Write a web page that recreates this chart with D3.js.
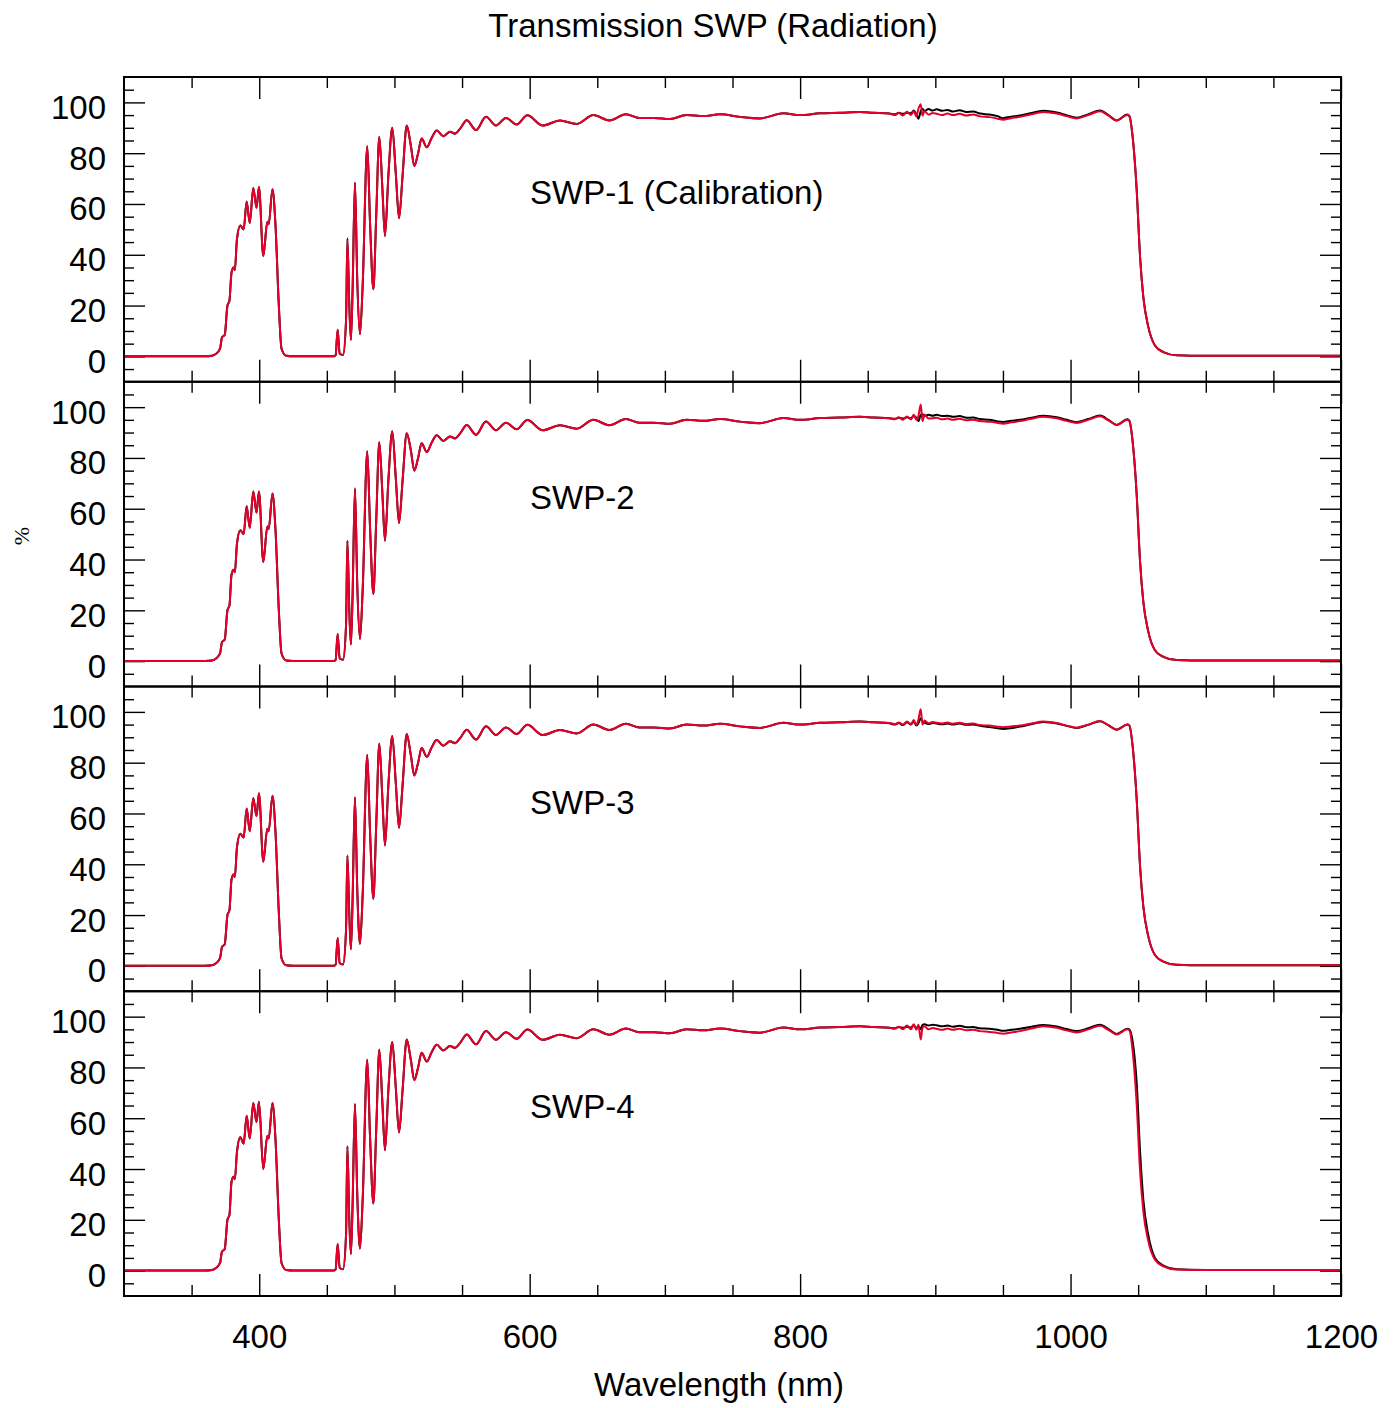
<!DOCTYPE html>
<html>
<head>
<meta charset="utf-8">
<script src="https://cdn.jsdelivr.net/npm/d3@7"></script>
<style>
  body { margin: 0; background: #fff; }
  svg { display: block; font-family: "Liberation Sans", Arial, Helvetica, sans-serif; }
</style>
</head>
<body>
<svg id="chart" width="1398" height="1408"></svg>
<script>

// wavelength grid (nm), shared by every series
const wavelength = [
  300, 360, 365, 368, 371, 372.5, 374.5, 376.5, 378, 379.5, 381, 382, 383.5, 386, 388.5, 390.7, 393, 395.6, 398, 399.8, 403, 406, 407, 409.8, 412, 414.5, 416.5, 420, 425,
  455, 456.5, 458, 459.5, 462, 464.2, 465.2, 466.5, 467.8, 469, 470.8, 472.5, 474.5, 476.5, 479.9, 482, 484.4, 486.5, 488.8, 491, 493, 495.5, 498.4, 501, 503.4, 506, 509.1, 512, 514.7, 517.5, 520.1, 523.9, 527.5, 531.3, 536.1, 541.1, 544.8, 549, 553.4, 560.3, 567.7, 575.1, 582.5, 590.4, 598.3, 609.6, 622.4, 634.8, 647.1, 658.9, 671.2, 681.1, 692, 703.8, 716.1, 728.4, 740.8, 755.6, 770.3, 787.6, 799.9, 814.7, 829.5, 844.3, 854.2,
  866, 870, 873, 876, 879, 882, 884, 886, 887.5, 889.2, 890.5, 892, 895, 898, 901, 905, 909, 913, 918, 923, 928, 933, 940, 946, 950, 956, 962.6, 970, 979.9, 989.8, 997, 1004.5, 1013, 1021.8, 1028, 1034.1, 1042,
  1043.5, 1046, 1048.9, 1051.4, 1053.8, 1057.5, 1062.4, 1068.6, 1078.5, 1100, 1150, 1200
];

// transmission (%) - black and red measurement of each filter
const swp1Black = [
  0, 0, 0.2, 1, 3, 7.5, 8.5, 20, 22, 33, 35, 34, 46, 51.5, 50, 61, 52.5, 66.3, 58.5, 66.7, 39.5, 53, 52, 65.8, 52, 20, 3, 0.2, 0,
  0, 0.5, 10.5, 1, 0.5, 14, 46.5, 22, 6.5, 25, 68.5, 30, 8.7, 28, 82.7, 52, 26.4, 55, 86.4, 67, 47.4, 71, 90, 72, 54.4, 71, 90.9, 83.4, 75, 80, 85.8, 82.3, 86, 88.9, 86.7, 88.4, 87.7, 90, 93, 89.1, 94.3, 90.9, 93.9, 91.3, 94.9, 90.9, 92.9, 91.5, 95, 92.9, 95.3, 93.9, 93.9, 93.5, 95, 94.6, 95.3, 94.3, 93.7, 95.7, 95, 95.7, 95.9, 96.2, 95.9,
  95.6, 95.3, 95.9, 95.5, 95.9, 95.7, 96.8, 95.2, 93.6, 96.5, 97.5, 96.6, 97.4, 96.8, 97.3, 96.7, 97, 96.4, 96.9, 96.2, 96.4, 95.6, 95.2, 94.6, 93.8, 94.4, 94.8, 95.7, 96.7, 96, 95, 94, 95.3, 96.8, 95, 92.9, 95.2,
  94.6, 86, 65.6, 39.2, 23.4, 11.6, 4.3, 1.7, 0.4, 0.2, 0.2, 0.2
];
const swp1Red = [
  0, 0, 0.2, 1, 3, 7.5, 8.5, 20, 22, 33, 35, 34, 46, 51.5, 50, 61, 52.5, 66.3, 58.5, 66.7, 39.5, 53, 52, 65.8, 52, 20, 3, 0.2, 0,
  0, 0.5, 10.5, 1, 0.5, 14, 45.8, 22, 6.5, 25, 68.5, 30, 8.7, 28, 82.7, 52, 26.4, 55, 86.4, 67, 47.4, 71, 90, 72, 54.4, 71, 90.9, 83.4, 75, 80, 85.8, 82.3, 86, 88.9, 86.7, 88.4, 87.7, 90, 93, 89.1, 94.3, 90.9, 93.9, 91.3, 94.9, 90.9, 92.9, 91.5, 95, 92.9, 95.3, 93.9, 93.9, 93.5, 95, 94.6, 95.3, 94.3, 93.7, 95.7, 95, 95.7, 95.9, 96.2, 95.9,
  95.6, 95, 95.8, 94.8, 96.3, 95, 96.5, 94.5, 97.5, 99.3, 94.8, 96.5, 95.2, 95.8, 95.5, 95, 95.6, 95, 95.5, 94.8, 95.2, 94.5, 94.2, 93.6, 93.2, 93.8, 94.3, 95.2, 96.2, 95.6, 94.6, 93.7, 95, 96.5, 94.8, 92.9, 95,
  94.6, 86, 65.6, 39.2, 23.4, 11.6, 4.3, 1.7, 0.4, 0.2, 0.2, 0.2
];
const swp2Black = [
  0, 0, 0.2, 1, 3, 7.5, 8.5, 20, 22, 34, 36, 35, 46, 51.5, 50, 61, 52.5, 66.8, 58.5, 66.8, 39, 53, 52, 66, 52, 20, 3, 0.2, 0,
  0, 0.5, 10.7, 1, 0.5, 14, 47.4, 22, 6.5, 25, 68, 30, 8.7, 28, 82.6, 52, 26.4, 55, 86.2, 67, 47.4, 71, 90.5, 72, 54.4, 71, 89.7, 83.4, 75, 80, 85.8, 82.3, 86, 88.9, 86.7, 88.4, 87.7, 90, 93, 89.1, 94.3, 90.9, 93.9, 91.3, 94.9, 90.9, 92.9, 91.5, 95, 92.9, 95.3, 93.9, 93.9, 93.5, 95, 94.6, 95.3, 94.3, 93.7, 95.7, 95, 95.7, 95.9, 96.2, 95.9,
  95.6, 95.4, 95.8, 95.5, 96, 95.6, 96.5, 95.8, 94.5, 97, 97.2, 96.5, 97, 96.6, 97, 96.5, 96.6, 96.2, 96.5, 95.8, 95.9, 95.3, 95, 94.4, 94.2, 94.6, 95, 95.7, 96.6, 96, 95, 94.1, 95.3, 96.7, 95, 93, 95.2,
  94.6, 86, 65.6, 39.2, 23.4, 11.6, 4.3, 1.7, 0.4, 0.2, 0.2, 0.2
];
const swp2Red = [
  0, 0, 0.2, 1, 3, 7.5, 8.5, 20, 22, 34, 36, 35, 46, 51.5, 50, 61, 52.5, 66.8, 58.5, 66.8, 39, 53, 52, 66, 52, 20, 3, 0.2, 0,
  0, 0.5, 10.7, 1, 0.5, 14, 47.4, 22, 6.5, 25, 68, 30, 8.7, 28, 82.6, 52, 26.4, 55, 86.2, 67, 47.4, 71, 90.5, 72, 54.4, 71, 89.7, 83.4, 75, 80, 85.8, 82.3, 86, 88.9, 86.7, 88.4, 87.7, 90, 93, 89.1, 94.3, 90.9, 93.9, 91.3, 94.9, 90.9, 92.9, 91.5, 95, 92.9, 95.3, 93.9, 93.9, 93.5, 95, 94.6, 95.3, 94.3, 93.7, 95.7, 95, 95.7, 95.9, 96.2, 95.9,
  95.6, 95.2, 96, 95, 96.3, 95.2, 97, 95, 96.5, 101, 94.5, 97, 95.5, 95.6, 95.8, 95.2, 95.5, 95, 95.4, 94.8, 95, 94.5, 94.2, 93.8, 93.5, 94, 94.5, 95.3, 96.2, 95.6, 94.6, 93.8, 95, 96.4, 94.8, 93, 95,
  94.6, 86, 65.6, 39.2, 23.4, 11.6, 4.3, 1.7, 0.4, 0.2, 0.2, 0.2
];
const swp3Black = [
  0, 0, 0.2, 1, 3, 7.5, 8.5, 20, 22, 34, 36, 35, 46.5, 52, 50.5, 62, 53, 66, 59, 68, 41, 54, 53, 67, 53, 21, 3, 0.2, 0,
  0, 0.5, 11, 1, 0.5, 14, 43.5, 22, 6.5, 25, 66.4, 30, 8.7, 28, 83, 52, 26.4, 55, 87.5, 67, 47.4, 71, 90.5, 72, 54.4, 71, 91.3, 83.4, 75, 80, 85.8, 82.3, 86, 88.9, 86.7, 88.4, 87.7, 90, 93, 89.1, 94.3, 90.9, 93.9, 91.3, 94.9, 90.9, 92.9, 91.5, 95, 92.9, 95.3, 93.9, 93.9, 93.5, 95, 94.6, 95.3, 94.3, 93.7, 95.7, 95, 95.7, 95.9, 96.2, 95.9,
  95.5, 95, 95.6, 94.8, 95.9, 95, 96.2, 94.6, 95.5, 97.5, 96.2, 95.8, 95.2, 95.6, 95.4, 95.1, 95.4, 95, 95.4, 94.9, 95, 94.5, 94, 93.6, 93.3, 93.6, 94.2, 95, 96, 95.4, 94.5, 93.7, 94.9, 96.3, 94.7, 93, 95,
  94.6, 86, 65.6, 39.2, 23.4, 11.6, 4.3, 1.7, 0.4, 0.2, 0.2, 0.2
];
const swp3Red = [
  0, 0, 0.2, 1, 3, 7.5, 8.5, 20, 22, 34, 36, 35, 46.5, 52, 50.5, 62, 53, 66, 59, 68, 41, 54, 53, 67, 53, 21, 3, 0.2, 0,
  0, 0.5, 11, 1, 0.5, 14, 43.5, 22, 6.5, 25, 66.4, 30, 8.7, 28, 83, 52, 26.4, 55, 87.5, 67, 47.4, 71, 90.5, 72, 54.4, 71, 91.3, 83.4, 75, 80, 85.8, 82.3, 86, 88.9, 86.7, 88.4, 87.7, 90, 93, 89.1, 94.3, 90.9, 93.9, 91.3, 94.9, 90.9, 92.9, 91.5, 95, 92.9, 95.3, 93.9, 93.9, 93.5, 95, 94.6, 95.3, 94.3, 93.7, 95.7, 95, 95.7, 95.9, 96.2, 95.9,
  95.6, 95.2, 95.8, 95, 96.2, 95.2, 96.8, 94.8, 97, 101, 95, 96.6, 95.5, 96, 95.7, 95.4, 95.8, 95.3, 95.7, 95.2, 95.4, 94.8, 94.6, 94.2, 94, 94.3, 94.6, 95.3, 96.2, 95.6, 94.6, 93.8, 95, 96.4, 94.8, 93, 95,
  94.6, 86, 65.6, 39.2, 23.4, 11.6, 4.3, 1.7, 0.4, 0.2, 0.2, 0.2
];
const swp4Black = [
  0, 0, 0.2, 1, 3, 7.5, 8.5, 20, 22, 35, 37, 36, 46.5, 52.5, 50, 61, 52, 66, 58.5, 66.5, 40, 53, 52, 66, 52, 20, 3, 0.2, 0,
  0, 0.5, 10.5, 1, 0.5, 14, 49, 22, 6.5, 25, 65.6, 30, 8.7, 28, 83, 52, 26.4, 55, 87, 67, 47.4, 71, 90, 72, 54.4, 71, 91, 83.4, 75, 80, 85.8, 82.3, 86, 88.9, 86.7, 88.4, 87.7, 90, 93, 89.1, 94.3, 90.9, 93.9, 91.3, 94.9, 90.9, 92.9, 91.5, 95, 92.9, 95.3, 93.9, 93.9, 93.5, 95, 94.6, 95.3, 94.3, 93.7, 95.7, 95, 95.7, 95.9, 96.2, 95.9,
  95.6, 95.4, 95.9, 95.6, 96, 95.7, 96.6, 95.5, 96.2, 95, 96.8, 97, 96.5, 96.8, 96.6, 96.2, 96.5, 96, 96.4, 95.8, 95.9, 95.4, 95.2, 94.8, 94.4, 94.8, 95.2, 95.9, 96.7, 96.1, 95.1, 94.3, 95.4, 96.8, 95.1, 93.2, 95.2,
  95, 90, 74, 47, 28, 14, 5, 2, 0.5, 0.2, 0.2, 0.2
];
const swp4Red = [
  0, 0, 0.2, 1, 3, 7.5, 8.5, 20, 22, 35, 37, 36, 46.5, 52.5, 50, 61, 52, 66, 58.5, 66.5, 40, 53, 52, 66, 52, 20, 3, 0.2, 0,
  0, 0.5, 10.5, 1, 0.5, 14, 49, 22, 6.5, 25, 65.6, 30, 8.7, 28, 83, 52, 26.4, 55, 87, 67, 47.4, 71, 90, 72, 54.4, 71, 91, 83.4, 75, 80, 85.8, 82.3, 86, 88.9, 86.7, 88.4, 87.7, 90, 93, 89.1, 94.3, 90.9, 93.9, 91.3, 94.9, 90.9, 92.9, 91.5, 95, 92.9, 95.3, 93.9, 93.9, 93.5, 95, 94.6, 95.3, 94.3, 93.7, 95.7, 95, 95.7, 95.9, 96.2, 95.9,
  95.6, 95.2, 96, 95, 96.5, 95, 97, 94.8, 96.8, 91, 95.5, 96.2, 95, 95.5, 95.2, 94.8, 95.3, 94.8, 95.2, 94.6, 94.8, 94.3, 94, 93.6, 93.3, 93.8, 94.3, 95.2, 96.2, 95.6, 94.6, 93.8, 95, 96.4, 94.8, 93, 95,
  94.6, 86, 65.6, 39.2, 23.4, 11.6, 4.3, 1.7, 0.4, 0.2, 0.2, 0.2
];

const panelNames = ['SWP-1 (Calibration)', 'SWP-2', 'SWP-3', 'SWP-4'];
const blackSeries = [swp1Black, swp2Black, swp3Black, swp4Black];
const redSeries = [swp1Red, swp2Red, swp3Red, swp4Red];

// tick values
const xLabelTicks = [400, 600, 800, 1000, 1200];
const xMinorTicks = [350, 450, 500, 550, 650, 700, 750, 850, 900, 950, 1050, 1100, 1150];
const yLabelTicks = [0, 20, 40, 60, 80, 100];
const yMinorTicks = [-5, 5, 10, 15, 25, 30, 35, 45, 50, 55, 65, 70, 75, 85, 90, 95, 105];


const svg = d3.select('#chart');

// layout of the stacked panels
const plotLeft = 124, plotRight = 1341;
const plotTop = 77, plotBottom = 1296;
const panelH = (plotBottom - plotTop) / 4;

const xScale = d3.scaleLinear().domain([300, 1200]).range([plotLeft, plotRight]);

// inward ticks without labels
function drawTicks(g, axis, values, size, transform) {
  g.append('g')
    .attr('transform', transform)
    .call(axis.tickValues(values).tickSize(size).tickFormat(''))
    .call(a => a.select('.domain').remove())
    .selectAll('line')
    .attr('stroke-width', 1.4);
}

panelNames.forEach((name, i) => {
  const top = plotTop + i * panelH;
  const bottom = top + panelH;
  const yScale = d3.scaleLinear().domain([-10, 110]).range([bottom, top]);
  const g = svg.append('g').attr('class', 'panel');

  // x ticks on top and bottom edge
  drawTicks(g, d3.axisBottom(xScale), xLabelTicks, 22, `translate(0, ${top})`);
  drawTicks(g, d3.axisBottom(xScale), xMinorTicks, 11, `translate(0, ${top})`);
  drawTicks(g, d3.axisTop(xScale), xLabelTicks, 22, `translate(0, ${bottom})`);
  drawTicks(g, d3.axisTop(xScale), xMinorTicks, 11, `translate(0, ${bottom})`);

  // y ticks on left and right edge
  drawTicks(g, d3.axisRight(yScale), yLabelTicks, 21, `translate(${plotLeft}, 0)`);
  drawTicks(g, d3.axisRight(yScale), yMinorTicks, 10, `translate(${plotLeft}, 0)`);
  drawTicks(g, d3.axisLeft(yScale), yLabelTicks, 21, `translate(${plotRight}, 0)`);
  drawTicks(g, d3.axisLeft(yScale), yMinorTicks, 10, `translate(${plotRight}, 0)`);

  // y labels
  g.append('g')
    .attr('transform', `translate(${plotLeft}, 0)`)
    .call(d3.axisLeft(yScale).tickValues(yLabelTicks).tickSize(0).tickPadding(18))
    .attr('font-size', 33)
    .attr('font-family', null)
    .call(a => a.select('.domain').remove())
    .selectAll('text')
    .attr('dy', '0.485em');

  // draw the two measurements
  const line = d3.line()
    .x((d, j) => xScale(wavelength[j]))
    .y(d => yScale(d))
    .curve(d3.curveMonotoneX);

  g.append('path')
    .attr('d', line(blackSeries[i]))
    .attr('fill', 'none')
    .attr('stroke', '#000')
    .attr('stroke-width', 2)
    .attr('stroke-linejoin', 'round');
  g.append('path')
    .attr('d', line(redSeries[i]))
    .attr('fill', 'none')
    .attr('stroke', '#e4002b')
    .attr('stroke-width', 2)
    .attr('stroke-linejoin', 'round');

  // panel name
  g.append('text')
    .text(name)
    .attr('x', 530)
    .attr('y', top + 127)
    .attr('font-size', 33);

  // frame
  g.append('rect')
    .attr('x', plotLeft)
    .attr('y', top)
    .attr('width', plotRight - plotLeft)
    .attr('height', panelH)
    .attr('fill', 'none')
    .attr('stroke', '#000')
    .attr('stroke-width', 2);
});

// x labels under the last panel
svg.append('g')
  .attr('transform', `translate(0, ${plotBottom})`)
  .call(d3.axisBottom(xScale).tickValues(xLabelTicks).tickFormat(d3.format('d')).tickSize(0).tickPadding(28.6))
  .attr('font-size', 33)
  .attr('font-family', null)
  .call(a => a.select('.domain').remove());

// titles
svg.append('text')
  .text('Transmission SWP (Radiation)')
  .attr('x', 713)
  .attr('y', 37)
  .attr('text-anchor', 'middle')
  .attr('font-size', 33);

svg.append('text')
  .text('Wavelength (nm)')
  .attr('x', 719)
  .attr('y', 1396)
  .attr('text-anchor', 'middle')
  .attr('font-size', 33);

svg.append('text')
  .text('%')
  .attr('transform', 'translate(29, 536) rotate(-90)')
  .attr('text-anchor', 'middle')
  .attr('font-family', '"Liberation Serif", "Times New Roman", serif')
  .attr('font-size', 22);

</script>
</body>
</html>
